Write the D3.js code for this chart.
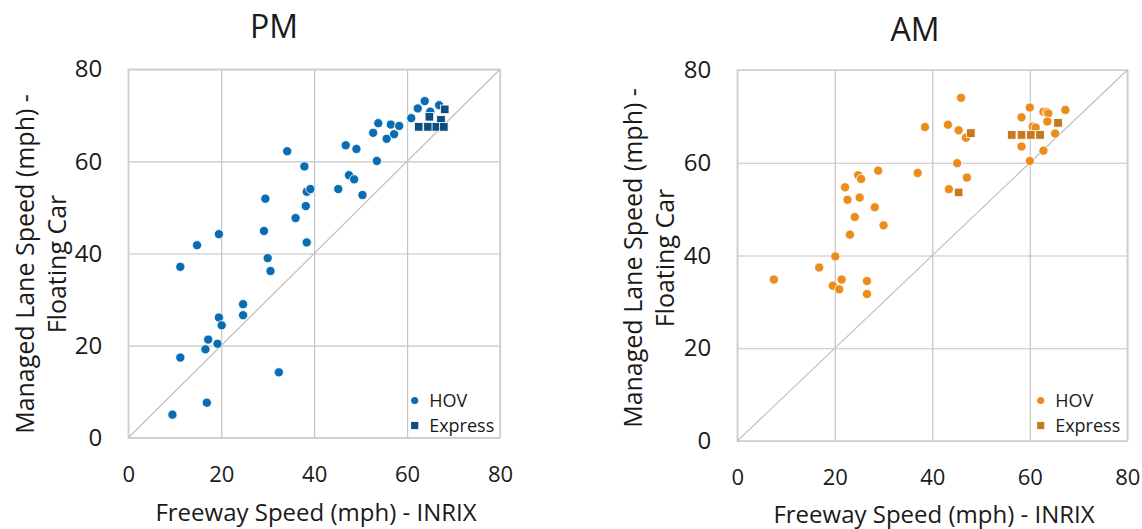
<!DOCTYPE html>
<html>
<head>
<meta charset="utf-8">
<script src="https://cdn.jsdelivr.net/npm/d3@7"></script>
<style>
  body { margin: 0; background: #fff; }
  svg text { font-family: "Open Sans", "Noto Sans", sans-serif; fill: #1a1a1a; }
</style>
</head>
<body>
<div id="chart"></div>
<script>
// ---------------------------
// DATA (x = freeway speed INRIX, y = managed lane speed floating car)
// ---------------------------
const ticks = [0, 20, 40, 60, 80];
const seriesNames = ["HOV", "Express"];

const pmHov = [
  [63.8, 73.1], [66.9, 72.2], [62.3, 71.5], [65.0, 70.8], [60.9, 69.4], [53.8, 68.3],
  [56.5, 68.0], [58.3, 67.7], [52.7, 66.2], [57.2, 65.9], [55.6, 64.9], [46.8, 63.5],
  [49.1, 62.7], [34.2, 62.2], [53.5, 60.1], [37.9, 58.9], [47.5, 57.0], [48.6, 56.1],
  [38.4, 53.4], [39.2, 54.0], [45.2, 54.0], [50.4, 52.7], [29.5, 51.9], [38.2, 50.3],
  [36.0, 47.7], [29.2, 44.9], [19.5, 44.2], [14.8, 41.8], [38.4, 42.4], [30.0, 39.0],
  [11.2, 37.1], [30.6, 36.2], [24.7, 29.0], [24.7, 26.6], [19.5, 26.1], [20.1, 24.4],
  [17.2, 21.3], [19.2, 20.4], [16.6, 19.2], [11.2, 17.4], [32.4, 14.2], [16.9, 7.6],
  [9.5, 5.0]
];
const pmExpress = [
  [68.1, 71.3], [64.8, 69.7], [67.3, 69.0], [62.5, 67.5], [64.5, 67.5], [66.3, 67.5], [67.9, 67.5]
];

const amHov = [
  [45.9, 74.0], [60.0, 71.9], [67.3, 71.4], [62.8, 71.0], [63.5, 70.9], [63.8, 70.6],
  [58.3, 69.8], [63.6, 68.9], [60.6, 67.8], [61.2, 67.6], [38.5, 67.7], [43.2, 68.2],
  [45.4, 67.0], [46.9, 65.4], [65.2, 66.3], [58.3, 63.5], [62.8, 62.6], [60.0, 60.4],
  [45.1, 59.9], [28.9, 58.3], [37.0, 57.8], [24.8, 57.3], [25.4, 56.5], [47.1, 56.8],
  [22.1, 54.7], [43.4, 54.3], [22.6, 52.0], [25.1, 52.5], [28.2, 50.4], [24.1, 48.3],
  [30.0, 46.5], [23.1, 44.5], [20.1, 39.8], [16.8, 37.4], [7.5, 34.8], [21.4, 34.8],
  [19.6, 33.5], [20.9, 32.7], [26.6, 34.5], [26.6, 31.7]
];
const amExpress = [
  [47.9, 66.4], [56.3, 66.0], [58.3, 66.0], [60.2, 66.0], [62.1, 66.0], [65.8, 68.6], [45.4, 53.6]
];

// ---------------------------
// LAYOUT
// ---------------------------
const width = 1142, height = 529;
const svg = d3.select("#chart").append("svg")
  .attr("width", width)
  .attr("height", height);

const panels = [
  {
    title: "PM", hov: pmHov, express: pmExpress,
    hovColor: "#0a6db4", expColor: "#0b4f82",
    left: 128.3, right: 500, top: 69.3, bottom: 437.7,
    titleX: 274, titleY: 38, ylabX: [25, 57], ylabY: 264,
    xtickY: 482, xlabX: 316, xlabY: 521, legendX: 414.7
  },
  {
    title: "AM", hov: amHov, express: amExpress,
    hovColor: "#ec8c1c", expColor: "#c67a1c",
    left: 737.3, right: 1127.3, top: 70, bottom: 441,
    titleX: 915, titleY: 41, ylabX: [633, 665], ylabY: 258,
    xtickY: 485, xlabX: 934, xlabY: 523, legendX: 1040.7
  }
];

const gridColor = "#c4c4c4";

panels.forEach(p => {
  const x = d3.scaleLinear().domain([0, 80]).range([p.left, p.right]);
  const y = d3.scaleLinear().domain([0, 80]).range([p.bottom, p.top]);
  const g = svg.append("g");

  // gridlines
  g.append("g")
    .attr("transform", `translate(0,${p.bottom})`)
    .call(d3.axisBottom(x).tickValues(ticks).tickSize(-(p.bottom - p.top)).tickFormat(""))
    .call(a => a.select(".domain").remove())
    .call(a => a.selectAll("line").attr("stroke", gridColor).attr("stroke-width", 1.2));
  g.append("g")
    .attr("transform", `translate(${p.left},0)`)
    .call(d3.axisLeft(y).tickValues(ticks).tickSize(-(p.right - p.left)).tickFormat(""))
    .call(a => a.select(".domain").remove())
    .call(a => a.selectAll("line").attr("stroke", gridColor).attr("stroke-width", 1.2));

  // frame
  g.append("rect")
    .attr("x", p.left).attr("y", p.top)
    .attr("width", p.right - p.left).attr("height", p.bottom - p.top)
    .attr("fill", "none").attr("stroke", "#cfcfcf").attr("stroke-width", 1.5);

  // 1:1 line
  g.append("line")
    .attr("x1", x(0)).attr("y1", y(0))
    .attr("x2", x(80)).attr("y2", y(80))
    .attr("stroke", "#c0c0c0").attr("stroke-width", 1.2);

  // tick labels
  g.append("g")
    .attr("transform", `translate(${p.left - 26},0)`)
    .call(d3.axisLeft(y).tickValues(ticks).tickSize(0).tickPadding(0))
    .call(a => a.select(".domain").remove())
    .call(a => a.selectAll("text")
      .attr("font-size", "24px").attr("fill", "#1a1a1a")
      .style("font-family", "'Open Sans', sans-serif"));
  g.append("g")
    .attr("transform", `translate(0,${p.xtickY})`)
    .call(d3.axisBottom(x).tickValues(ticks).tickSize(0).tickPadding(0))
    .call(a => a.select(".domain").remove())
    .call(a => a.selectAll("text")
      .attr("dy", 0).attr("y", 0)
      .attr("font-size", "22px").attr("fill", "#1a1a1a")
      .style("font-family", "'Open Sans', sans-serif"));

  // title
  g.append("text")
    .attr("x", p.titleX)
    .attr("y", p.titleY)
    .attr("text-anchor", "middle")
    .attr("font-size", "32px")
    .text(p.title);

  // axis titles
  g.append("text")
    .attr("x", p.xlabX)
    .attr("y", p.xlabY)
    .attr("text-anchor", "middle")
    .attr("font-size", "24px")
    .text("Freeway Speed (mph) - INRIX");

  ["Managed Lane Speed (mph) -", "Floating Car"].forEach((t, i) => {
    g.append("text")
      .attr("transform", `translate(${p.ylabX[i] + 9},${p.ylabY}) rotate(-90)`)
      .attr("text-anchor", "middle")
      .attr("font-size", "25px")
      .text(t);
  });

  // points
  g.append("g").selectAll("circle")
    .data(p.hov)
    .enter().append("circle")
    .attr("cx", d => x(d[0]))
    .attr("cy", d => y(d[1]))
    .attr("r", 4.6)
    .attr("fill", p.hovColor)
    .attr("stroke", "#fff")
    .attr("stroke-width", 0.8);

  const s = 8.6;
  g.append("g").selectAll("rect")
    .data(p.express)
    .enter().append("rect")
    .attr("x", d => x(d[0]) - s / 2)
    .attr("y", d => y(d[1]) - s / 2)
    .attr("width", s).attr("height", s)
    .attr("fill", p.expColor)
    .attr("stroke", "#fff")
    .attr("stroke-width", 0.8);

  // legend
  const leg = g.append("g");
  seriesNames.forEach((name, i) => {
    const ly = 400.5 + i * 25;
    if (i === 0) {
      leg.append("circle")
        .attr("cx", p.legendX).attr("cy", ly).attr("r", 3.6)
        .attr("fill", p.hovColor);
    } else {
      leg.append("rect")
        .attr("x", p.legendX - 3.6).attr("y", ly - 3.6)
        .attr("width", 7.2).attr("height", 7.2)
        .attr("fill", p.expColor);
    }
    leg.append("text")
      .attr("x", p.legendX + 14.5)
      .attr("y", ly + 6.5)
      .attr("font-size", "18px")
      .text(name);
  });
});
</script>
</body>
</html>
